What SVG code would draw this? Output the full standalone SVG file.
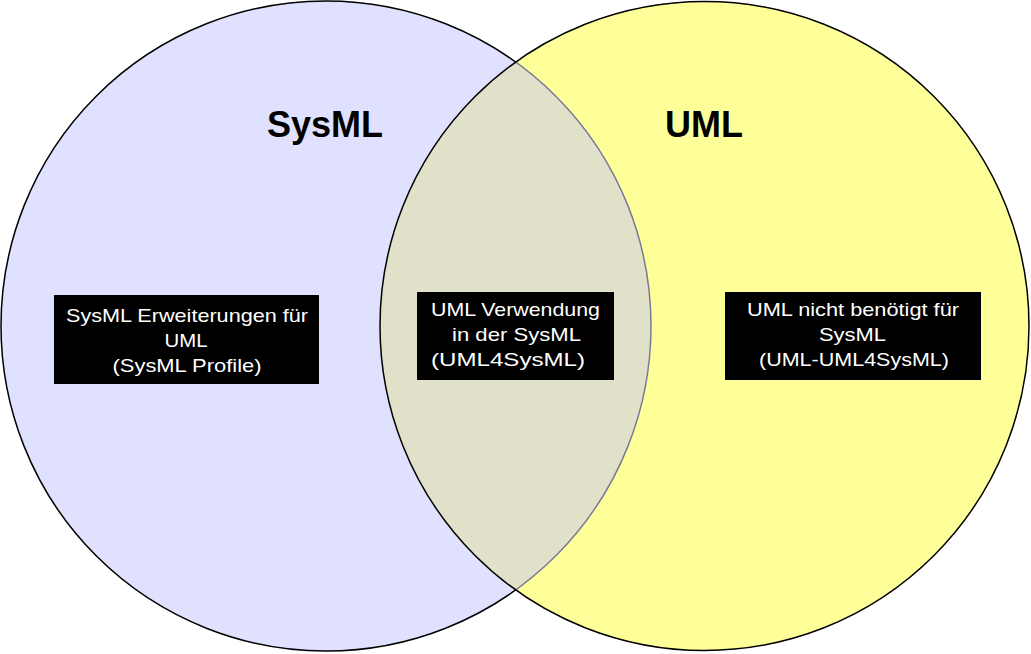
<svg xmlns="http://www.w3.org/2000/svg" width="1031" height="654" viewBox="0 0 1031 654">
<defs>
<clipPath id="clipL"><circle cx="326" cy="326" r="325"/></clipPath>
<clipPath id="clipR"><circle cx="704.5" cy="326" r="324.5"/></clipPath>
<style>
.box{fill:#000}
.lbl{font-family:"Liberation Sans",Arial,sans-serif;font-size:18.5px;fill:#fff;text-anchor:middle}
.title{font-family:"Liberation Sans",Arial,sans-serif;font-size:36px;font-weight:bold;fill:#000;text-anchor:middle}
</style>
</defs>
<rect width="1031" height="654" fill="#fff"/>
<g id="sysml-set">
<circle cx="326" cy="326" r="325" fill="#e0e0ff" stroke="#000" stroke-width="1.5"/>
</g>
<g id="uml-set">
<circle cx="704.5" cy="326" r="324.5" fill="#ffff99"/>
<circle cx="704.5" cy="326" r="324.5" fill="#e1e1c9" clip-path="url(#clipL)"/>
<circle cx="326" cy="326" r="325" fill="none" stroke="#7a7a98" stroke-width="1.5" clip-path="url(#clipR)"/>
<circle cx="704.5" cy="326" r="324.5" fill="none" stroke="#000" stroke-width="1.5"/>
</g>
<g id="title-sysml"><text class="title" x="325" y="137">SysML</text></g>
<g id="title-uml"><text class="title" x="704" y="137">UML</text></g>
<g id="node-sysml-ext">
<rect class="box" x="54" y="295" width="265" height="89"/>
<text class="lbl" x="187" y="322" textLength="242" lengthAdjust="spacingAndGlyphs">SysML Erweiterungen für</text>
<text class="lbl" x="186" y="347" textLength="43" lengthAdjust="spacingAndGlyphs">UML</text>
<text class="lbl" x="187" y="372" textLength="149" lengthAdjust="spacingAndGlyphs">(SysML Profile)</text>
</g>
<g id="node-uml4sysml">
<rect class="box" x="417" y="292" width="197" height="88"/>
<text class="lbl" x="515.5" y="316" textLength="169" lengthAdjust="spacingAndGlyphs">UML Verwendung</text>
<text class="lbl" x="516.5" y="341" textLength="129" lengthAdjust="spacingAndGlyphs">in der SysML</text>
<text class="lbl" x="508" y="366" textLength="154" lengthAdjust="spacingAndGlyphs">(UML4SysML)</text>
</g>
<g id="node-uml-not">
<rect class="box" x="725" y="292" width="256" height="88"/>
<text class="lbl" x="853" y="316" textLength="212" lengthAdjust="spacingAndGlyphs">UML nicht benötigt für</text>
<text class="lbl" x="852.5" y="341" textLength="67" lengthAdjust="spacingAndGlyphs">SysML</text>
<text class="lbl" x="854" y="366" textLength="190" lengthAdjust="spacingAndGlyphs">(UML-UML4SysML)</text>
</g>
<g id="connectors"/>
</svg>
